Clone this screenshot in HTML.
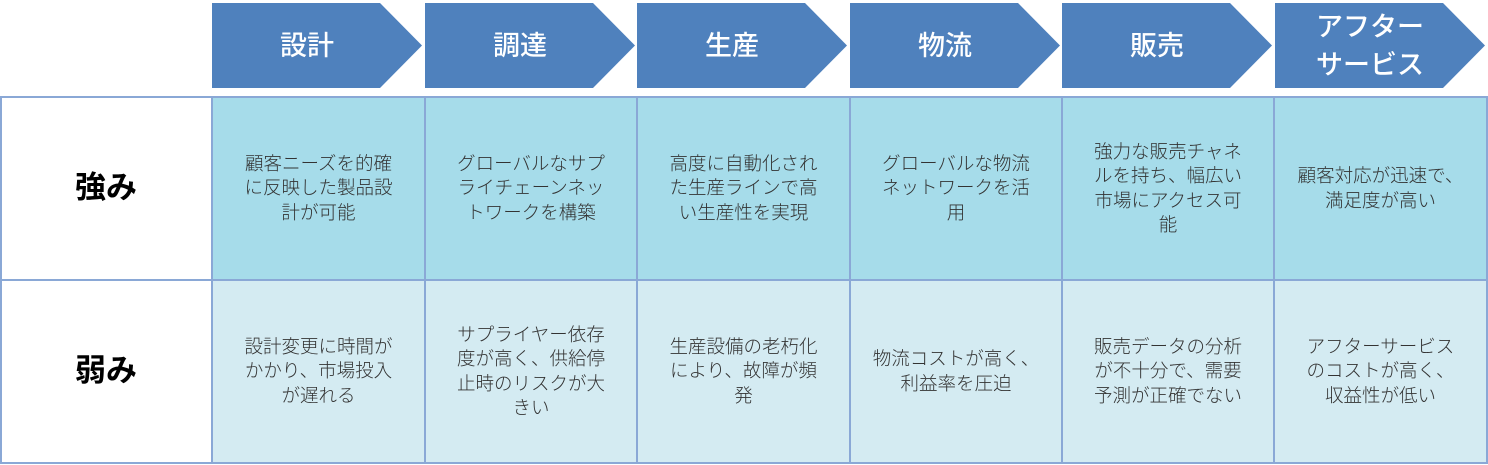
<!DOCTYPE html>
<html><head><meta charset="utf-8"><style>
body{margin:0;width:1488px;height:465px;background:#fff;position:relative;overflow:hidden;font-family:"Liberation Sans","Noto Sans CJK JP",sans-serif}
.ar{position:absolute;top:3px;width:211px;height:85px}
.ar span{position:absolute;left:0;width:170px;top:0;height:85px;display:flex;align-items:center;justify-content:center;color:#fff;font-size:27px;line-height:38px;text-align:center;font-weight:500}
.c{position:absolute;display:flex;align-items:center;justify-content:center;text-align:center;font-size:18.5px;line-height:24.5px;color:#333;box-sizing:border-box;white-space:nowrap;font-weight:300}
.r1{top:97px;height:183px;background:#a6dcea}
.r2{top:280px;height:183px;background:#d4ebf2}
.h{font-size:31px;font-weight:bold;color:#000;background:#fff}
.v{position:absolute;width:2px;background:#8aa8d6;top:96px;height:368px}
.hl{position:absolute;height:2px;background:#8aa8d6;left:0;width:1488px}
</style></head><body>
<svg width="1488" height="95" style="position:absolute;left:0;top:0">
<g fill="#4f81bd">
<polygon points="212,3 380,3 422,45.5 380,88 212,88"/>
<polygon points="425,3 593,3 635,45.5 593,88 425,88"/>
<polygon points="637,3 805,3 847,45.5 805,88 637,88"/>
<polygon points="850,3 1018,3 1060,45.5 1018,88 850,88"/>
<polygon points="1062,3 1230,3 1272,45.5 1230,88 1062,88"/>
<polygon points="1275,3 1443,3 1485,45.5 1443,88 1275,88"/>
</g></svg>
<div class="ar" style="left:222px"><span>設計</span></div>
<div class="ar" style="left:435px"><span>調達</span></div>
<div class="ar" style="left:647px"><span>生産</span></div>
<div class="ar" style="left:860px"><span>物流</span></div>
<div class="ar" style="left:1072px"><span>販売</span></div>
<div class="ar" style="left:1285px"><span>アフター<br>サービス</span></div>

<div class="c h" style="left:0;width:212px;top:97px;height:183px">強み</div>
<div class="c h" style="left:0;width:212px;top:280px;height:183px">弱み</div>

<div class="c r1" style="left:212px;width:213px">顧客ニーズを的確<br>に反映した製品設<br>計が可能</div>
<div class="c r1" style="left:425px;width:212px">グローバルなサプ<br>ライチェーンネッ<br>トワークを構築</div>
<div class="c r1" style="left:637px;width:213px">高度に自動化され<br>た生産ラインで高<br>い生産性を実現</div>
<div class="c r1" style="left:850px;width:212px">グローバルな物流<br>ネットワークを活<br>用</div>
<div class="c r1" style="left:1062px;width:212px">強力な販売チャネ<br>ルを持ち、幅広い<br>市場にアクセス可<br>能</div>
<div class="c r1" style="left:1274px;width:213px">顧客対応が迅速で、<br>満足度が高い</div>

<div class="c r2" style="left:212px;width:213px">設計変更に時間が<br>かかり、市場投入<br>が遅れる</div>
<div class="c r2" style="left:425px;width:212px">サプライヤー依存<br>度が高く、供給停<br>止時のリスクが大<br>きい</div>
<div class="c r2" style="left:637px;width:213px">生産設備の老朽化<br>により、故障が頻<br>発</div>
<div class="c r2" style="left:850px;width:212px">物流コストが高く、<br>利益率を圧迫</div>
<div class="c r2" style="left:1062px;width:212px">販売データの分析<br>が不十分で、需要<br>予測が正確でない</div>
<div class="c r2" style="left:1274px;width:213px">アフターサービス<br>のコストが高く、<br>収益性が低い</div>

<div class="hl" style="top:96px"></div>
<div class="hl" style="top:279px"></div>
<div class="hl" style="top:462px"></div>
<div class="v" style="left:0"></div>
<div class="v" style="left:211px"></div>
<div class="v" style="left:424px"></div>
<div class="v" style="left:636px"></div>
<div class="v" style="left:849px"></div>
<div class="v" style="left:1061px"></div>
<div class="v" style="left:1273px"></div>
<div class="v" style="left:1486px"></div>
</body></html>
